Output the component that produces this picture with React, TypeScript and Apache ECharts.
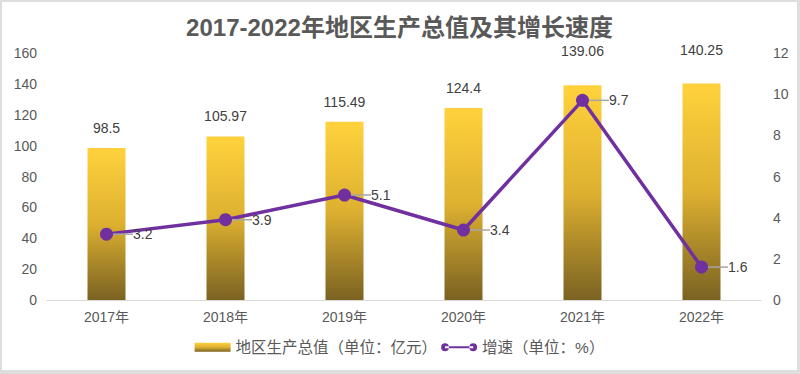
import React, { useEffect, useRef } from "react";
import * as echarts from "echarts";

const categories = ["2017年", "2018年", "2019年", "2020年", "2021年", "2022年"];
const gdpValues = [98.5, 105.97, 115.49, 124.4, 139.06, 140.25];
const growthValues = [3.2, 3.9, 5.1, 3.4, 9.7, 1.6];
const gdpName = "地区生产总值（单位：亿元）";
const growthName = "增速（单位：%）";
const titleText = "2017-2022年地区生产总值及其增长速度";

const FONT = "'Liberation Sans', 'Noto Sans CJK SC', sans-serif";
const LINE_ICON =
  "path://M0,5a5,5 0 1,0 10,0a5,5 0 1,0 -10,0Z M36,5a5,5 0 1,0 10,0a5,5 0 1,0 -10,0Z M5,3.6H41V6.4H5Z";

export default function App() {
  const ref = useRef<HTMLDivElement>(null);
  useEffect(() => {
    if (!ref.current) return;
    const chart = echarts.init(ref.current, undefined, { renderer: "svg" });
    const barGrad = new echarts.graphic.LinearGradient(0, 0, 0, 1, [
      { offset: 0, color: "#FFD23D" },
      { offset: 0.5, color: "#DDB030" },
      { offset: 1, color: "#7A6222" },
    ]);
    // the last two bar labels sit higher (moved clear of the line label)
    const barData = gdpValues.map((v, i) =>
      i >= 4 ? { value: v, label: { distance: 27 } } : v
    );
    chart.setOption({
      animation: false,
      backgroundColor: "#ffffff",
      textStyle: { fontFamily: FONT },
      title: {
        text: titleText,
        left: "center",
        top: 8,
        textStyle: {
          fontFamily: FONT,
          fontSize: 24,
          fontWeight: "bold",
          color: "#595959",
        },
      },
      legend: {
        bottom: 10,
        left: "center",
        itemGap: 4,
        textStyle: { color: "#595959", fontSize: 15.5, fontFamily: FONT },
        data: [
          { name: gdpName, icon: "rect", itemStyle: { color: barGrad }, itemWidth: 36, itemHeight: 8 },
          { name: growthName, icon: LINE_ICON, itemStyle: { color: "#7030A0" }, itemWidth: 46, itemHeight: 10 },
        ],
        itemWidth: 36,
        itemHeight: 9,
      },
      grid: { left: 45, right: 36, top: 51, bottom: 70, containLabel: false },
      xAxis: {
        type: "category",
        data: categories,
        axisTick: { show: false },
        axisLine: { lineStyle: { color: "#d9d9d9", width: 1 } },
        axisLabel: { color: "#595959", fontSize: 14, margin: 10, fontFamily: FONT },
      },
      yAxis: [
        {
          type: "value",
          min: 0,
          max: 160,
          interval: 20,
          splitLine: { show: false },
          axisLine: { show: false },
          axisTick: { show: false },
          axisLabel: { color: "#595959", fontSize: 14, margin: 10, fontFamily: FONT },
        },
        {
          type: "value",
          min: 0,
          max: 12,
          interval: 2,
          splitLine: { show: false },
          axisLine: { show: false },
          axisTick: { show: false },
          axisLabel: { color: "#595959", fontSize: 14, margin: 12, fontFamily: FONT },
        },
      ],
      series: [
        {
          name: gdpName,
          type: "bar",
          data: barData,
          barWidth: 38,
          itemStyle: { color: barGrad },
          label: {
            show: true,
            position: "top",
            distance: 13,
            color: "#404040",
            fontSize: 14,
            fontFamily: FONT,
          },
        },
        {
          name: growthName,
          type: "line",
          yAxisIndex: 1,
          data: growthValues,
          symbol: "circle",
          symbolSize: 13,
          lineStyle: { color: "#7030A0", width: 3.5 },
          itemStyle: { color: "#7030A0" },
          label: {
            show: true,
            position: "right",
            distance: 4,
            color: "#404040",
            fontSize: 14,
            fontFamily: FONT,
          },
          labelLayout: { dx: 16, dy: 0 },
          labelLine: { show: true, lineStyle: { color: "#a6a6a6", width: 1.5 } },
        },
      ],
    });
    return () => chart.dispose();
  }, []);
  return (
    <div
      style={{
        position: "absolute",
        left: 0,
        top: 0,
        width: 800,
        height: 374,
        boxSizing: "border-box",
        borderTop: "2px solid #dedede",
        borderLeft: "2px solid #dedede",
        borderRight: "3px solid #dedede",
        borderBottom: "4px solid #dedede",
        background: "#fff",
      }}
    >
      <div ref={ref} style={{ width: "100%", height: "100%" }} />
    </div>
  );
}
